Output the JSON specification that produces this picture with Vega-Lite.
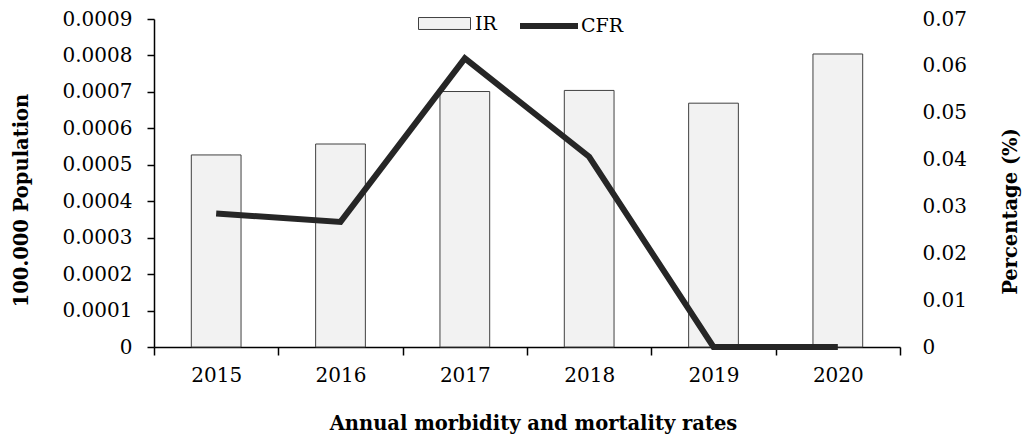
{
  "$schema": "https://vega.github.io/schema/vega-lite/v6.json",
  "width": 746,
  "height": 328,
  "autosize": "none",
  "padding": {"left": 154, "top": 19, "right": 123, "bottom": 94},
  "background": "white",
  "config": {
    "view": {"stroke": null},
    "font": "DejaVu Serif",
    "axis": {"labelFont": "DejaVu Serif", "titleFont": "DejaVu Serif", "labelColor": "#000000", "titleColor": "#000000", "grid": false}
  },
  "data": {
    "values": [
      {"year": "2015", "IR": 0.000527, "CFR": 0.0285},
      {"year": "2016", "IR": 0.000557, "CFR": 0.0267},
      {"year": "2017", "IR": 0.000701, "CFR": 0.0616},
      {"year": "2018", "IR": 0.000704, "CFR": 0.0406},
      {"year": "2019", "IR": 0.000669, "CFR": 0},
      {"year": "2020", "IR": 0.000804, "CFR": 0}
    ]
  },
  "encoding": {
    "x": {
      "field": "year",
      "type": "nominal",
      "scale": {"paddingInner": 0, "paddingOuter": 0},
      "axis": {
        "title": "Annual morbidity and mortality rates",
        "titleFontSize": 19.5,
        "titleFontWeight": "bold",
        "titleX": 379,
        "titleY": 82,
        "titleAlign": "center",
        "titleBaseline": "alphabetic",
        "labelAngle": 0,
        "labelFontSize": 20,
        "labelPadding": 10,
        "tickBand": "extent",
        "tickSize": 8,
        "tickColor": "#000000",
        "domainColor": "#000000",
        "tickWidth": 1.5,
        "domainWidth": 1.5
      }
    }
  },
  "layer": [
    {
      "mark": {"type": "bar", "width": {"band": 0.4}, "stroke": "#404040", "strokeWidth": 1},
      "encoding": {
        "y": {
          "field": "IR",
          "type": "quantitative",
          "scale": {"domain": [0, 0.0009]},
          "axis": {
            "title": "100.000 Population",
            "titleFontSize": 19.5,
            "titleFontWeight": "bold",
            "titleAngle": 270,
            "titleX": -133,
            "titleY": 181,
            "titleAlign": "center",
            "titleBaseline": "middle",
            "values": [0, 0.0001, 0.0002, 0.0003, 0.0004, 0.0005, 0.0006, 0.0007, 0.0008, 0.0009],
            "format": ".4~f",
            "labelFontSize": 20,
            "labelPadding": 15,
            "tickSize": 7,
            "tickColor": "#000000",
            "domainColor": "#000000",
            "tickWidth": 1.5,
            "domainWidth": 1.5
          }
        },
        "color": {
          "datum": "IR",
          "type": "nominal",
          "scale": {"range": ["#f2f2f2"]},
          "legend": {
            "title": null,
            "orient": "none",
            "legendX": 264,
            "legendY": -22,
            "direction": "horizontal",
            "symbolType": "M-1,-0.23H1V0.23H-1Z",
            "symbolSize": 2704,
            "symbolStrokeColor": "#404040",
            "symbolStrokeWidth": 1,
            "labelFont": "DejaVu Serif",
            "labelFontSize": 19,
            "labelColor": "#000000",
            "labelOffset": 4,
            "padding": 0
          }
        }
      }
    },
    {
      "mark": {"type": "line", "strokeWidth": 6, "strokeCap": "butt", "strokeJoin": "miter"},
      "encoding": {
        "y": {
          "field": "CFR",
          "type": "quantitative",
          "scale": {"domain": [0, 0.07]},
          "axis": {
            "orient": "right",
            "title": "Percentage (%)",
            "titleFontSize": 19.5,
            "titleFontWeight": "bold",
            "titleAngle": 270,
            "titleX": 110,
            "titleY": 192,
            "titleAlign": "center",
            "titleBaseline": "middle",
            "values": [0, 0.01, 0.02, 0.03, 0.04, 0.05, 0.06, 0.07],
            "format": ".2~f",
            "labelFontSize": 20,
            "labelPadding": 22,
            "ticks": false,
            "domain": false
          }
        },
        "stroke": {
          "datum": "CFR",
          "type": "nominal",
          "scale": {"range": ["#262626"]},
          "legend": {
            "title": null,
            "orient": "none",
            "legendX": 363,
            "legendY": -25,
            "direction": "horizontal",
            "symbolType": "stroke",
            "symbolSize": 3364,
            "symbolStrokeWidth": 6,
            "labelFont": "DejaVu Serif",
            "labelFontSize": 19,
            "labelColor": "#000000",
            "labelOffset": 0,
            "padding": 0
          }
        }
      }
    }
  ],
  "resolve": {"scale": {"y": "independent", "color": "independent"}}
}
